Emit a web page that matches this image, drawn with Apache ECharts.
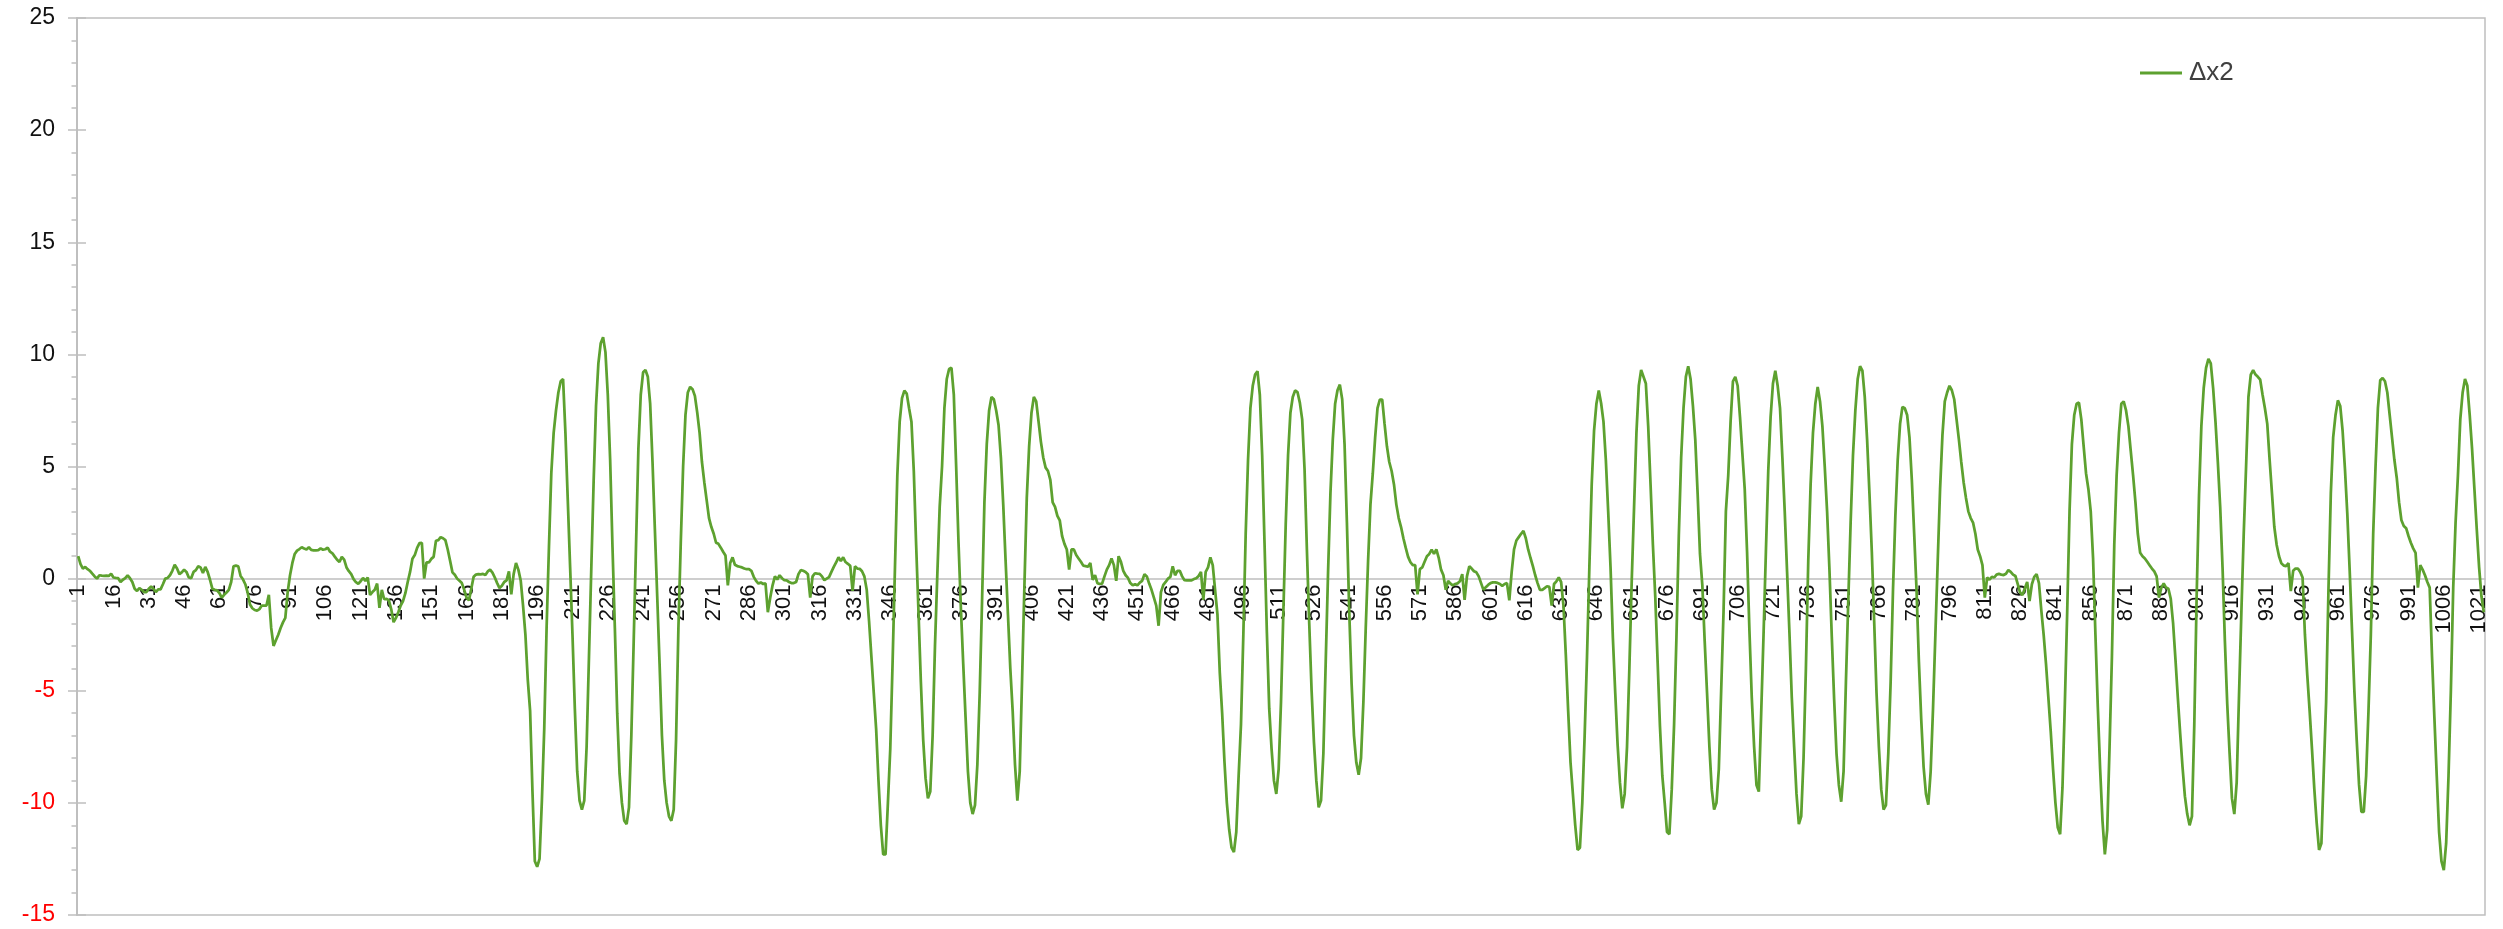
<!DOCTYPE html>
<html>
<head>
<meta charset="utf-8">
<title>Δx2</title>
<script src="https://cdn.jsdelivr.net/npm/echarts@6/dist/echarts.min.js"></script>
<style>
  html, body { margin: 0; padding: 0; background: #ffffff; }
  #chart { width: 2503px; height: 929px; }
</style>
</head>
<body>
<div id="chart"></div>
<script>
// Series name shown in the legend
const seriesName = 'Δx2';

// Δx2 samples, one per index starting at 1
const dx2 = [
  1.0, 0.65, 0.45, 0.52, 0.42, 0.35, 0.22, 0.1,
  0.0, 0.15, 0.13, 0.12, 0.13, 0.12, 0.22, 0.05, 0.03, 0.02,
  -0.15, -0.05, 0.02, 0.15, 0.02, -0.15, -0.45, -0.55, -0.42, -0.5,
  -0.6, -0.6, -0.45, -0.35, -0.45, -0.6, -0.48, -0.48, -0.25, 0.0,
  0.03, 0.15, 0.35, 0.62, 0.45, 0.2, 0.28, 0.4, 0.3, 0.05,
  0.02, 0.3, 0.38, 0.55, 0.5, 0.25, 0.52, 0.3, -0.05, -0.45,
  -0.5, -0.52, -0.65, -0.85, -0.72, -0.62, -0.5, -0.15, 0.55, 0.58,
  0.55, 0.12, -0.03, -0.25, -0.62, -1.15, -1.32, -1.4, -1.43, -1.36,
  -1.2, -1.2, -1.2, -0.72, -2.2, -3.0, -2.75, -2.5, -2.2, -1.95,
  -1.75, -0.6, 0.15, 0.7, 1.1, 1.25, 1.32, 1.4, 1.34, 1.3,
  1.4, 1.28, 1.26, 1.26, 1.27, 1.35, 1.29, 1.31, 1.38, 1.2,
  1.13, 0.98, 0.84, 0.74, 0.97, 0.85, 0.5, 0.33, 0.2, -0.02,
  -0.16, -0.23, -0.12, 0.03, -0.1, 0.05, -0.73, -0.6, -0.5, -0.22,
  -1.3, -0.5, -0.92, -0.9, -0.97, -1.37, -1.94, -1.75, -1.5, -1.2,
  -1.0, -0.65, -0.15, 0.3, 0.89, 1.05, 1.37, 1.58, 1.6, 0.0,
  0.73, 0.72, 0.88, 0.97, 1.69, 1.72, 1.85, 1.8, 1.72, 1.3,
  0.8, 0.28, 0.17, 0.0, -0.1, -0.2, -0.5, -0.85, -0.97, -0.45,
  0.08, 0.18, 0.2, 0.19, 0.21, 0.16, 0.32, 0.4, 0.27, 0.05,
  -0.2, -0.42, -0.32, -0.15, -0.08, 0.32, -0.7, 0.2, 0.7, 0.4,
  -0.08, -1.2, -2.5, -4.5, -5.9, -9.5, -12.6, -12.85, -12.5, -9.9,
  -6.7, -2.2, 1.4, 4.7, 6.5, 7.5, 8.3, 8.8, 8.9, 6.5,
  3.5, 0.5, -2.5, -5.8, -8.6, -9.9, -10.3, -9.9, -7.5, -3.5,
  0.5, 4.4, 7.7, 9.6, 10.5, 10.76, 10.1, 8.2, 5.3, 1.4,
  -2.2, -6.0, -8.7, -10.0, -10.8, -10.95, -10.2, -7.0, -2.8, 1.5,
  5.8, 8.2, 9.2, 9.3, 9.0, 7.8, 5.2, 2.2, -0.8, -3.8,
  -7.0, -9.0, -10.0, -10.6, -10.8, -10.3, -7.2, -2.2, 1.6, 5.0,
  7.3, 8.3, 8.55, 8.45, 8.15, 7.4, 6.5, 5.2, 4.3, 3.5,
  2.7, 2.3, 2.0, 1.6, 1.55, 1.38, 1.2, 1.03, -0.3, 0.7,
  0.95, 0.62, 0.56, 0.53, 0.5, 0.45, 0.42, 0.42, 0.35, 0.08,
  -0.1, -0.22, -0.17, -0.24, -0.21, -1.5, -0.85, -0.3, 0.1, -0.04,
  0.15, 0.02, -0.07, -0.08, -0.15, -0.2, -0.2, -0.15, 0.2, 0.38,
  0.35, 0.3, 0.2, -0.85, 0.1, 0.24, 0.22, 0.21, 0.1, -0.07,
  0.0, 0.07, 0.3, 0.52, 0.72, 0.95, 0.78, 0.95, 0.74, 0.66,
  0.57, -0.55, 0.55, 0.45, 0.44, 0.33, 0.1, -0.5, -1.9, -3.5,
  -5.1, -6.7, -9.0, -11.0, -12.3, -12.3, -10.0, -7.6, -3.7, 0.5,
  4.6, 7.0, 8.05, 8.38, 8.25, 7.6, 7.0, 4.8, 1.5, -1.5,
  -4.6, -7.2, -8.9, -9.8, -9.5, -7.0, -3.0, 0.2, 3.2, 5.0,
  7.6, 8.9, 9.35, 9.4, 8.2, 5.0, 1.6, -1.3, -3.8, -6.2,
  -8.6, -10.0, -10.5, -10.1, -8.3, -5.1, -1.0, 3.4, 6.0, 7.5,
  8.1, 8.0, 7.5, 6.85, 5.4, 3.3, 0.8, -1.6, -4.0, -5.9,
  -8.3, -9.9, -8.6, -4.5, -0.3, 3.6, 5.9, 7.4, 8.1, 7.9,
  7.0, 6.1, 5.4, 4.95, 4.8, 4.4, 3.4, 3.2, 2.8, 2.6,
  1.9, 1.55, 1.3, 0.4, 1.3, 1.3, 1.05, 0.9, 0.75, 0.58,
  0.56, 0.53, 0.7, -0.05, 0.15, -0.2, -0.24, -0.22, 0.1, 0.4,
  0.6, 0.9, 0.6, -0.1, 1.0, 0.75, 0.35, 0.15, 0.03, -0.2,
  -0.3, -0.25, -0.3, -0.18, -0.1, 0.2, 0.1, -0.22, -0.5, -0.85,
  -1.2, -2.1, -0.6, -0.28, -0.15, 0.0, 0.08, 0.55, 0.15, 0.35,
  0.35, 0.1, -0.07, -0.08, -0.08, -0.08, -0.02, 0.02, 0.12, 0.3,
  -0.95, 0.3, 0.5, 0.95, 0.6, -0.5, -1.6, -4.2, -6.0, -8.2,
  -10.0, -11.2, -12.0, -12.2, -11.3, -8.8, -6.5, -2.5, 2.0, 5.3,
  7.6, 8.6, 9.1, 9.25, 8.2, 5.5, 1.6, -2.4, -5.8, -7.6,
  -9.0, -9.6, -8.5, -5.5, -1.5, 2.4, 5.5, 7.4, 8.1, 8.39,
  8.32, 7.85, 7.1, 4.9, 1.3, -2.0, -5.0, -7.3, -9.0, -10.2,
  -9.9, -7.8, -3.7, 0.3, 3.8, 6.2, 7.8, 8.4, 8.65, 8.0,
  6.0, 2.5, -1.5, -4.7, -7.0, -8.2, -8.75, -8.0, -5.5, -2.2,
  0.8, 3.3, 4.7, 6.3, 7.6, 7.98, 7.98, 6.9, 5.9, 5.2,
  4.8, 4.2, 3.3, 2.7, 2.3, 1.8, 1.37, 0.97, 0.73, 0.6,
  0.6, -0.7, 0.42, 0.5, 0.75, 1.0, 1.1, 1.29, 1.1, 1.3,
  0.93, 0.4, 0.15, -0.5, -0.1, -0.22, -0.3, -0.24, -0.21, -0.12,
  0.2, -0.95, 0.1, 0.55, 0.45, 0.33, 0.28, 0.1, -0.2, -0.5,
  -0.38, -0.28, -0.2, -0.17, -0.17, -0.19, -0.24, -0.32, -0.24, -0.2,
  -0.97, 0.3, 1.3, 1.7, 1.85, 2.0, 2.13, 1.8, 1.3, 0.92,
  0.56, 0.15, -0.2, -0.5, -0.5, -0.42, -0.34, -0.37, -1.2, -0.24,
  -0.12, 0.05, -0.15, -1.2, -3.4, -5.9, -8.2, -9.6, -11.0, -12.1,
  -12.0, -10.0, -7.0, -3.5, 0.5, 4.2, 6.6, 7.8, 8.39, 7.82,
  7.0, 5.3, 3.0, 0.5, -2.66, -5.1, -7.4, -9.1, -10.24, -9.6,
  -7.5, -4.0, -0.1, 3.2, 6.5, 8.6, 9.3, 9.0, 8.7, 6.8,
  4.2, 1.5, -0.8, -3.7, -6.6, -8.8, -10.0, -11.3, -11.4, -9.4,
  -6.5, -2.6, 1.9, 5.4, 7.6, 9.0, 9.47, 8.9, 7.7, 6.2,
  3.79, 1.1, -0.3, -2.8, -5.1, -7.5, -9.4, -10.3, -10.0, -8.5,
  -5.0, -1.5, 3.0, 4.6, 7.0, 8.8, 9.0, 8.6, 7.2, 5.6,
  4.0, 1.2, -2.3, -5.3, -7.5, -9.2, -9.5, -6.0, -2.5, 1.2,
  4.8, 7.2, 8.7, 9.27, 8.6, 7.6, 5.4, 3.0, 0.3, -2.4,
  -5.3, -7.5, -9.6, -10.95, -10.6, -8.0, -4.0, 0.8, 4.2, 6.5,
  7.8, 8.55, 7.9, 6.8, 5.0, 3.0, 0.4, -2.6, -5.4, -7.8,
  -9.2, -9.95, -8.6, -4.6, -1.0, 2.5, 5.5, 7.5, 8.9, 9.47,
  9.27, 8.1, 6.2, 3.79, 1.2, -1.9, -5.1, -7.5, -9.4, -10.3,
  -10.1, -7.8, -4.6, -0.5, 2.8, 5.3, 6.9, 7.66, 7.6, 7.3,
  6.3, 4.4, 2.0, -0.5, -3.7, -6.3, -8.4, -9.6, -10.08, -8.6,
  -5.8, -2.5, 0.8, 4.0, 6.4, 7.9, 8.3, 8.6, 8.4, 8.0,
  7.1, 6.2, 5.2, 4.3, 3.6, 3.0, 2.7, 2.5, 2.0, 1.3,
  1.0, 0.6, -0.85, 0.05, -0.05, 0.08, 0.05, 0.18, 0.21, 0.18,
  0.16, 0.22, 0.38, 0.3, 0.18, 0.12, -0.25, -0.62, -0.73, -0.44,
  -0.15, -1.0, -0.25, 0.08, 0.2, -0.2, -1.4, -2.5, -3.8, -5.3,
  -6.8, -8.5, -10.0, -11.1, -11.4, -9.3, -5.6, -1.5, 3.0, 6.0,
  7.3, 7.8, 7.85, 7.1, 5.9, 4.7, 4.0, 3.0, 0.9, -2.5,
  -5.7, -8.5, -10.8, -12.3, -11.2, -7.5, -3.5, 1.5, 4.6, 6.5,
  7.8, 7.9, 7.5, 6.8, 5.7, 4.6, 3.4, 2.0, 1.15, 1.0,
  0.9, 0.75, 0.6, 0.45, 0.32, 0.1, -0.85, -0.4, -0.22, -0.4,
  -0.45, -0.9, -2.0, -3.6, -5.3, -6.9, -8.4, -9.7, -10.5, -11.0,
  -10.6, -6.5, -0.8, 3.7, 6.8, 8.5, 9.4, 9.8, 9.6, 8.5,
  7.0, 5.2, 3.2, 0.5, -2.8, -5.6, -7.8, -9.8, -10.5, -9.1,
  -5.2, -1.5, 2.0, 5.0, 8.1, 9.1, 9.3, 9.1, 9.0, 8.87,
  8.2, 7.6, 6.9, 5.3, 3.8, 2.3, 1.5, 1.0, 0.68, 0.58,
  0.56, 0.69, -0.56, 0.35, 0.45, 0.45, 0.3, 0.05, -2.5, -4.3,
  -5.9, -7.6, -9.4, -10.9, -12.1, -11.8, -8.6, -5.5, -0.5, 3.8,
  6.3, 7.3, 7.95, 7.7, 6.6, 4.9, 2.9, 0.4, -2.3, -5.0,
  -7.2, -9.2, -10.4, -10.4, -8.8, -5.9, -2.5, 2.0, 5.0, 7.6,
  8.85, 8.95, 8.8, 8.3, 7.3, 6.3, 5.3, 4.5, 3.4, 2.6,
  2.35, 2.25, 1.9, 1.6, 1.35, 1.15, -0.4, 0.6, 0.4, 0.15,
  -0.15, -0.4, -3.5, -6.2, -8.8, -11.3, -12.6, -13.0, -11.8, -8.8,
  -5.0, -0.4, 2.5, 4.6, 7.1, 8.3, 8.9, 8.6, 7.3, 5.8,
  4.0, 2.2, 0.5, -0.8, -1.5
];

// Category labels: sample index starting at 1
const categories = dx2.map((_, i) => String(i + 1));

// Value-axis tick values
const yTicks = [-15, -10, -5, 0, 5, 10, 15, 20, 25];

const FONT = '"Liberation Sans", Arial, sans-serif';
const AXIS_GREY = '#BFBFBF';
const LINE_GREEN = '#5DA12F';

const GRID = { left: 77, right: 18, top: 18, bottom: 14 };
const CHART_H = 929;

const chart = echarts.init(document.getElementById('chart'), null, { renderer: 'canvas' });

// Pixel distance from the bottom edge of the plot up to the value-0 line,
// used to seat the category labels on the zero line.
const plotH = CHART_H - GRID.top - GRID.bottom;
const yMin = yTicks[0];
const yMax = yTicks[yTicks.length - 1];
const zeroLift = plotH * (0 - yMin) / (yMax - yMin);

const yBase = {
  type: 'value',
  min: yMin,
  max: yMax,
  interval: yTicks[1] - yTicks[0],
  splitLine: { show: false }
};

chart.setOption({
  animation: false,
  backgroundColor: '#ffffff',
  grid: Object.assign({}, GRID, {
    show: true,
    borderColor: AXIS_GREY,
    borderWidth: 1.5,
    containLabel: false,
    outerBoundsMode: 'none'
  }),
  legend: {
    data: [{ name: seriesName, icon: 'rect' }],
    left: 2140,
    top: 60,
    padding: 0,
    itemWidth: 42,
    itemHeight: 3,
    itemGap: 10,
    textStyle: { fontFamily: FONT, fontSize: 26, color: '#404040', padding: [0, 0, 0, 2] }
  },
  xAxis: [
    {
      type: 'category',
      data: categories,
      boundaryGap: true,
      axisLine: { onZero: true, lineStyle: { color: AXIS_GREY, width: 1.5 } },
      axisTick: { show: false },
      axisLabel: { show: false },
      splitLine: { show: false }
    },
    // label-only copy of the category axis, lifted onto the zero line
    {
      type: 'category',
      data: categories,
      boundaryGap: true,
      position: 'bottom',
      offset: -zeroLift,
      axisLine: { show: false, onZero: false },
      axisTick: { show: false },
      axisLabel: {
        interval: 14,
        rotate: 90,
        margin: 6,
        fontFamily: FONT,
        fontSize: 22,
        color: '#111111'
      },
      splitLine: { show: false }
    }
  ],
  yAxis: [
    Object.assign({}, yBase, {
      position: 'left',
      axisLine: { show: true, lineStyle: { color: AXIS_GREY, width: 2 } },
      axisTick: { show: true, inside: false, length: 9, lineStyle: { color: AXIS_GREY, width: 1.5 } },
      minorTick: { show: true, splitNumber: 5, length: 5.5, lineStyle: { color: AXIS_GREY, width: 1.5 } },
      axisLabel: {
        margin: 22,
        fontFamily: FONT,
        fontSize: 23,
        color: (value) => (Number(value) < 0 ? '#FF0000' : '#111111')
      }
    }),
    // inner half of the major tick marks, so they cross the axis line
    Object.assign({}, yBase, {
      position: 'left',
      axisLine: { show: false },
      axisTick: { show: true, inside: true, length: 9, lineStyle: { color: AXIS_GREY, width: 1.5 } },
      minorTick: { show: false },
      axisLabel: { show: false }
    })
  ],
  series: [{
    name: seriesName,
    type: 'line',
    data: dx2,
    xAxisIndex: 0,
    yAxisIndex: 0,
    symbol: 'none',
    showSymbol: false,
    smooth: false,
    lineStyle: { color: LINE_GREEN, width: 2.75 },
    itemStyle: { color: LINE_GREEN }
  }]
});
</script>
</body>
</html>
